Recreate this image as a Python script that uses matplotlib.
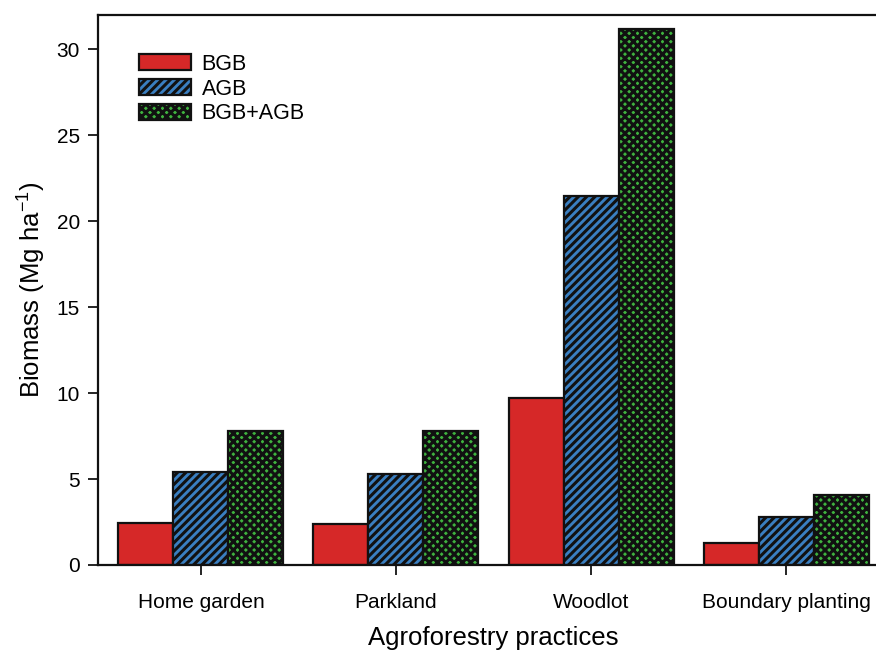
import matplotlib
matplotlib.use("Agg")
import matplotlib.pyplot as plt
import numpy as np

categories = ["Home garden", "Parkland", "Woodlot", "Boundary planting"]
bgb = [2.46, 2.39, 9.73, 1.30]
agb = [5.42, 5.32, 21.49, 2.81]
total = [7.82, 7.82, 31.16, 4.08]
series_names = ["BGB", "AGB", "BGB+AGB"]

plt.rcParams['font.family'] = ['Liberation Sans', 'DejaVu Sans']
plt.rcParams['mathtext.fontset'] = 'custom'
plt.rcParams['mathtext.rm'] = 'Liberation Sans'
plt.rcParams['hatch.linewidth'] = 2.2
plt.rcParams['hatch.color'] = '#111111'

fig = plt.figure(figsize=(8.76, 6.55), dpi=100)
ax = fig.add_axes([98/876, 1-565/655, (889-98)/876, (565-15)/655])

x = np.arange(len(categories))
w = 55/195
ax.bar(x - w, bgb, w, color='#d62828', edgecolor='#111111', linewidth=1.6, label=series_names[0])
ax.bar(x, agb, w, color='#3a7fc1', edgecolor='#111111', linewidth=1.6, hatch='////', label=series_names[1])
ax.bar(x + w, total, w, color='#3fb33f', edgecolor='#111111', linewidth=1.6, hatch='xxxx', label=series_names[2])

ax.set_xlim(-0.528, 3.528)
ax.set_ylim(0, 32)
ax.set_yticks([0, 5, 10, 15, 20, 25, 30])
ax.set_xticks(x)
ax.set_xticklabels(categories)
ax.tick_params(axis='both', direction='out', length=7, width=1.2, labelsize=15, pad=6)
ax.tick_params(axis='x', pad=13)
for s in ax.spines.values():
    s.set_linewidth(1.6)
    s.set_color('#111111')

ax.set_xlabel("Agroforestry practices", fontsize=18.5, labelpad=10)
ax.set_ylabel("Biomass (Mg ha$^{\\mathrm{-1}}$)", fontsize=18.5, labelpad=7)

leg = ax.legend(loc='upper left', bbox_to_anchor=(0.041, 0.945), frameon=False, fontsize=15.5,
                handlelength=2.4, handleheight=0.75, labelspacing=0.17, handletextpad=0.5,
                borderaxespad=0.0)

fig.savefig("out.png", dpi=100)
